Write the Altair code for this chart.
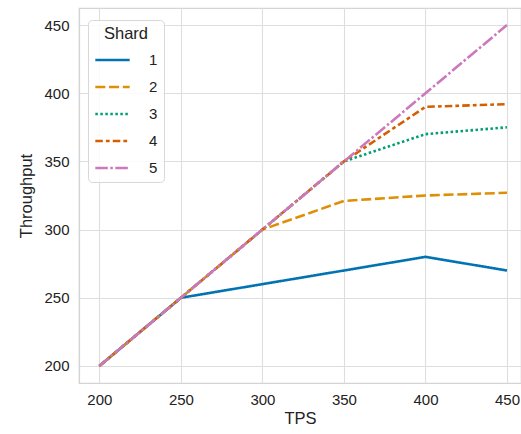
import altair as alt
import pandas as pd

tps = [200, 250, 300, 350, 400, 450]
shard_names = ["1", "2", "3", "4", "5"]
shard1 = [200, 250, 260, 270, 280, 270]
shard2 = [200, 250, 300, 321, 325, 327]
shard3 = [200, 250, 300, 350, 370, 375]
shard4 = [200, 250, 300, 350, 390, 392]
shard5 = [200, 250, 300, 350, 400, 450]
colors = ["#0173b2", "#de8f05", "#029e73", "#d55e00", "#cc78bc"]
dashes = [[1, 0], [10, 3.75], [2.5, 2.5], [7.5, 3.1, 3.75, 3.1], [12.5, 2.5, 2.5, 2.5]]

rows = []
for name, vals in zip(shard_names, [shard1, shard2, shard3, shard4, shard5]):
    for i, (t, v) in enumerate(zip(tps, vals)):
        rows.append({"Shard": name, "TPS": t, "Throughput": v, "order": shard_names.index(name)})
df = pd.DataFrame(rows)

font = "Liberation Sans"

chart = alt.Chart(df).mark_line(strokeWidth=2.6, clip=True).encode(
    x=alt.X("TPS:Q", scale=alt.Scale(domain=[187.5, 458.6], nice=False, zero=False),
            axis=alt.Axis(values=tps, format="d", labelPadding=9, titlePadding=3)),
    y=alt.Y("Throughput:Q", scale=alt.Scale(domain=[187.5, 462.5], nice=False, zero=False),
            axis=alt.Axis(values=[200, 250, 300, 350, 400, 450], format="d", labelPadding=10, titlePadding=9)),
    color=alt.Color("Shard:N", scale=alt.Scale(domain=shard_names, range=colors),
                    legend=alt.Legend(title="Shard")),
    strokeDash=alt.StrokeDash("Shard:N", scale=alt.Scale(domain=shard_names, range=dashes),
                              legend=alt.Legend(title="Shard")),
    detail="Shard:N",
    order="order:Q",
).properties(
    width=442, height=375,
    padding={"left": 79, "top": 8, "right": 0, "bottom": 51},
    autosize=alt.AutoSizeParams(type="none"),
).configure_view(
    stroke="#d4d4d4", strokeWidth=1.2
).configure_axis(
    labelFont=font, titleFont=font, labelFontSize=15, titleFontSize=16.5,
    labelColor="#222222", titleColor="#222222", titleFontWeight="normal",
    gridColor="#dedede", gridWidth=1.1, domainColor="#d4d4d4", domainWidth=1.2,
    ticks=False,
).configure_legend(
    orient="none", legendX=9, legendY=12,
    titleFont=font, labelFont=font, titleFontSize=16.5, labelFontSize=15,
    titleFontWeight="normal", titleColor="#222222", labelColor="#222222",
    titleAnchor="middle", titlePadding=-1,
    fillColor="rgba(255,255,255,0.85)", strokeColor="#d8d8d8", cornerRadius=4,
    padding=6, rowPadding=0, symbolType="stroke", symbolSize=1180,
    symbolStrokeWidth=2.6, labelOffset=18,
)

chart.save("out.html", embed_options={"renderer": "svg", "actions": False})
